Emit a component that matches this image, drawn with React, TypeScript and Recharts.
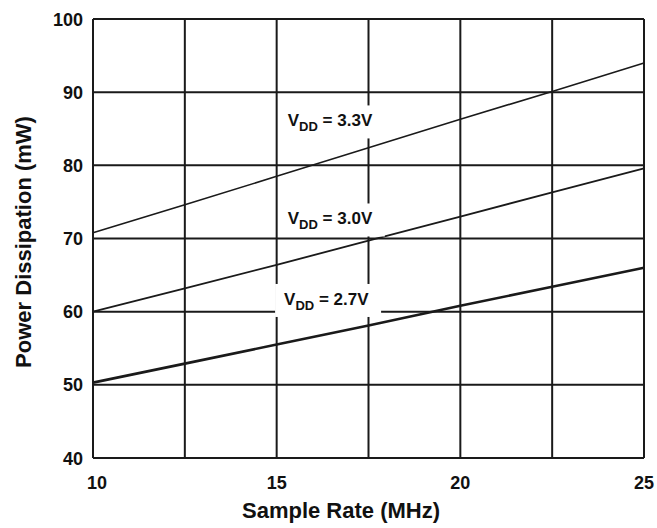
import React from "react";
import {
  LineChart,
  Line,
  XAxis,
  YAxis,
  CartesianGrid,
  ReferenceDot,
} from "recharts";

// Sample rate (MHz)
const rates = [10, 12.5, 15, 17.5, 20, 22.5, 25];
// Power dissipation (mW) for each supply voltage
const vdd33 = [70.8, 74.6, 78.5, 82.4, 86.3, 90.1, 94.0];
const vdd30 = [60.0, 63.2, 66.4, 69.7, 73.0, 76.3, 79.6];
const vdd27 = [50.3, 52.9, 55.5, 58.1, 60.8, 63.4, 66.0];

const xTicks = [10, 12.5, 15, 17.5, 20, 22.5, 25];
const xTickLabels = ["10", "", "15", "", "20", "", "25"];
const yTicks = [40, 50, 60, 70, 80, 90, 100];

// where the "VDD = x.xV" tags sit, in data units
const curveLabels = [
  { name: "3.3V", x: 16.5, y: 86.0 },
  { name: "3.0V", x: 16.5, y: 72.6 },
  { name: "2.7V", x: 16.4, y: 61.6 },
];

const data = rates.map((r, i) => ({
  rate: r,
  v33: vdd33[i],
  v30: vdd30[i],
  v27: vdd27[i],
}));

const FONT = "'Liberation Sans', Arial, sans-serif";
const INK = "#1a1a1a";

function XTick(props: any) {
  const { x, y, payload, index } = props;
  const label = xTickLabels[index] ?? "";
  if (!label) return null;
  return (
    <text
      x={x + (payload.value === 10 ? 4 : 0)}
      y={y + 23}
      textAnchor="middle"
      fontFamily={FONT}
      fontWeight="bold"
      fontSize={18}
      fill="#111"
    >
      {label}
    </text>
  );
}

function YTick(props: any) {
  const { x, y, payload } = props;
  return (
    <text
      x={x - 2}
      y={y + 6.5}
      textAnchor="end"
      fontFamily={FONT}
      fontWeight="bold"
      fontSize={18}
      fill="#111"
    >
      {payload.value}
    </text>
  );
}

function makeTag(name: string) {
  return (props: any) => {
    const { cx, cy } = props;
    return (
      <g>
        <rect x={cx - 53} y={cy - 16} width={106} height={33} fill="#fff" />
        <text
          x={cx - 44}
          y={cy + 5}
          fontFamily={FONT}
          fontWeight="bold"
          fontSize={17}
          fill="#111"
        >
          <tspan>V</tspan>
          <tspan dy={5} fontSize={13}>DD</tspan>
          <tspan dy={-5}>{` = ${name}`}</tspan>
        </text>
      </g>
    );
  };
}

export default function App() {
  return (
    <div style={{ position: "absolute", left: 0, top: 0, background: "#fff" }}>
      <LineChart
        width={657}
        height={528}
        data={data}
        margin={{ top: 19, right: 13, bottom: 0, left: 0 }}
      >
        <CartesianGrid stroke={INK} strokeWidth={2} />
        <XAxis
          dataKey="rate"
          type="number"
          domain={[10, 25]}
          ticks={xTicks}
          tick={<XTick />}
          tickLine={false}
          axisLine={false}
          height={70}
          interval={0}
        />
        <YAxis
          type="number"
          domain={[40, 100]}
          ticks={yTicks}
          tick={<YTick />}
          tickLine={false}
          axisLine={false}
          width={93}
          interval={0}
        />
        {curveLabels.map((c) => (
          <ReferenceDot
            key={c.name}
            x={c.x}
            y={c.y}
            r={0}
            shape={makeTag(c.name)}
          />
        ))}
        <Line
          dataKey="v33"
          stroke={INK}
          strokeWidth={1.6}
          dot={false}
          isAnimationActive={false}
        />
        <Line
          dataKey="v30"
          stroke={INK}
          strokeWidth={1.8}
          dot={false}
          isAnimationActive={false}
        />
        <Line
          dataKey="v27"
          stroke={INK}
          strokeWidth={2.6}
          dot={false}
          isAnimationActive={false}
        />
        <text
          x={341}
          y={518}
          textAnchor="middle"
          fontFamily={FONT}
          fontWeight="bold"
          fontSize={22}
          fill="#111"
        >
          Sample Rate (MHz)
        </text>
        <text
          transform="translate(31,242) rotate(-90)"
          textAnchor="middle"
          fontFamily={FONT}
          fontWeight="bold"
          fontSize={22}
          fill="#111"
        >
          Power Dissipation (mW)
        </text>
      </LineChart>
    </div>
  );
}
